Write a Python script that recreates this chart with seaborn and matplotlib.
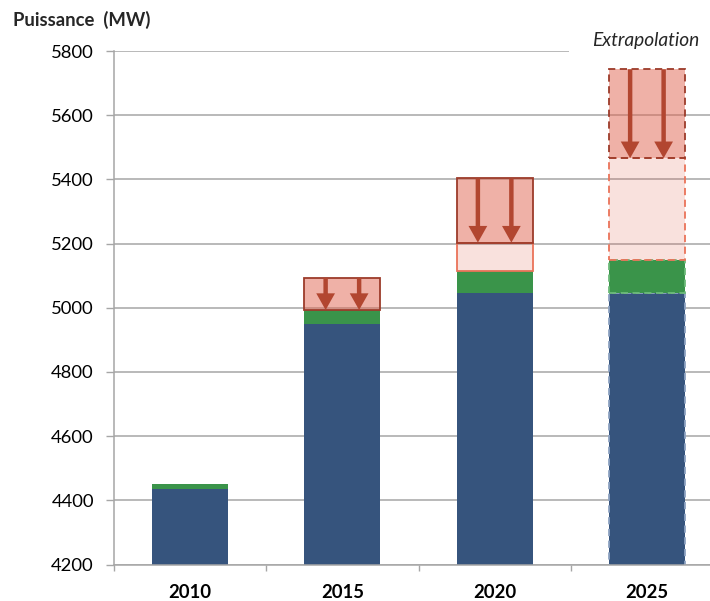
import matplotlib
matplotlib.use("Agg")
import matplotlib.pyplot as plt
import seaborn as sns
import numpy as np

# Installed capacity (MW) per year, stacked by component
years = ["2010", "2015", "2020", "2025"]
base_mw = [4435, 4948, 5045, 5045]
green_mw = [17, 45, 70, 103]
light_mw = [0, 0, 88, 318]
dark_mw = [0, 100, 200, 277]
y_ticks = [4200, 4400, 4600, 4800, 5000, 5200, 5400, 5600, 5800]

BLUE = "#36547D"
GREEN = "#3A944A"
DARK_FACE = (0.878, 0.396, 0.314, 0.50)
LIGHT_FACE = (0.882, 0.353, 0.275, 0.18)
DARK_EDGE = "#9C3B2A"
LIGHT_EDGE = "#EA7359"
ARROW = "#B24630"
GRID = "#A6A6A6"
FS = 13.3

sns.set_theme(style="white")
plt.rcParams["font.family"] = ["Lato", "DejaVu Sans"]

fig = plt.figure(figsize=(7.1, 6.01), dpi=100)
ax = fig.add_axes([114 / 710, 1 - 564.5 / 601, 609 / 710, (564.5 - 51) / 601])

base = np.array(base_mw, dtype=float)
green = np.array(green_mw, dtype=float)
light = np.array(light_mw, dtype=float)
dark = np.array(dark_mw, dtype=float)
b_green = base
b_light = base + green
b_dark = base + green + light

dashed_idx = years.index("2025")


def layer(values, bottoms, face, edge, lw, dashed_edge):
    sns.barplot(x=years, y=list(values), order=years, bottom=bottoms,
                color=face if isinstance(face, str) else face[:3],
                facecolor=face, edgecolor=edge, linewidth=lw,
                saturation=1, width=0.5, errorbar=None, ax=ax)
    bars = ax.containers[-1]
    for i, patch in enumerate(bars.patches):
        if values[i] <= 0:
            patch.set_visible(False)
        if i == dashed_idx:
            patch.set_edgecolor(dashed_edge)
            patch.set_linewidth(1.3)
            patch.set_linestyle((0, (4, 2.5)))


layer(base, 0, BLUE, "none", 0, "#8EA3C2")
layer(green, b_green, GREEN, "none", 0, "#6DBB7A")
layer(light, b_light, LIGHT_FACE, LIGHT_EDGE, 1.3, LIGHT_EDGE)
layer(dark, b_dark, DARK_FACE, DARK_EDGE, 1.3, DARK_EDGE)

# Downward arrows inside each reduction block
for i, h in enumerate(dark):
    if h <= 0:
        continue
    top = b_dark[i] + h
    for dx in (-0.11, 0.11):
        ax.annotate("", xy=(i + dx, b_dark[i]), xytext=(i + dx, top),
                    arrowprops=dict(arrowstyle="simple,head_length=1.2,head_width=1.35,tail_width=0.32",
                                    color=ARROW, lw=0, shrinkA=0, shrinkB=0,
                                    mutation_scale=10))

ax.set_ylim(4200, 5800)
ax.set_xlim(-0.5, 3.5)
ax.set_yticks(y_ticks)
ax.set_yticklabels([str(t) for t in y_ticks])
ax.set_axisbelow(True)
ax.yaxis.grid(True, color=GRID, lw=1.1)
ax.xaxis.grid(False)

for side in ("top", "right"):
    ax.spines[side].set_visible(False)
for side in ("left", "bottom"):
    ax.spines[side].set_color(GRID)
    ax.spines[side].set_linewidth(1.1)

ax.tick_params(axis="y", left=True, length=5.5, width=1, color=GRID,
               pad=9, labelsize=FS, labelcolor="black")
ax.set_xticks(range(len(years)))
ax.set_xticklabels(years)
ax.tick_params(axis="x", which="major", length=0, pad=14, labelsize=FS, labelcolor="black")
ax.set_xticks([-0.5, 0.5, 1.5, 2.5, 3.5], minor=True)
ax.tick_params(axis="x", which="minor", bottom=True, length=4, width=1, color=GRID)
for lbl in ax.get_xticklabels():
    lbl.set_fontweight("bold")
ax.set_xlabel("")
ax.set_ylabel("")

ax.text(2.99, 1.021, "Extrapolation", transform=ax.get_xaxis_transform(),
        ha="center", va="center", style="italic", fontsize=13.8, zorder=0.9,
        bbox=dict(facecolor="white", edgecolor="none", boxstyle="square,pad=1.2"))

fig.text(13 / 710, 1 - 26 / 601, "Puissance  (MW)", fontweight="bold",
         fontsize=FS, ha="left", va="baseline")

fig.savefig("out.png", dpi=100)
